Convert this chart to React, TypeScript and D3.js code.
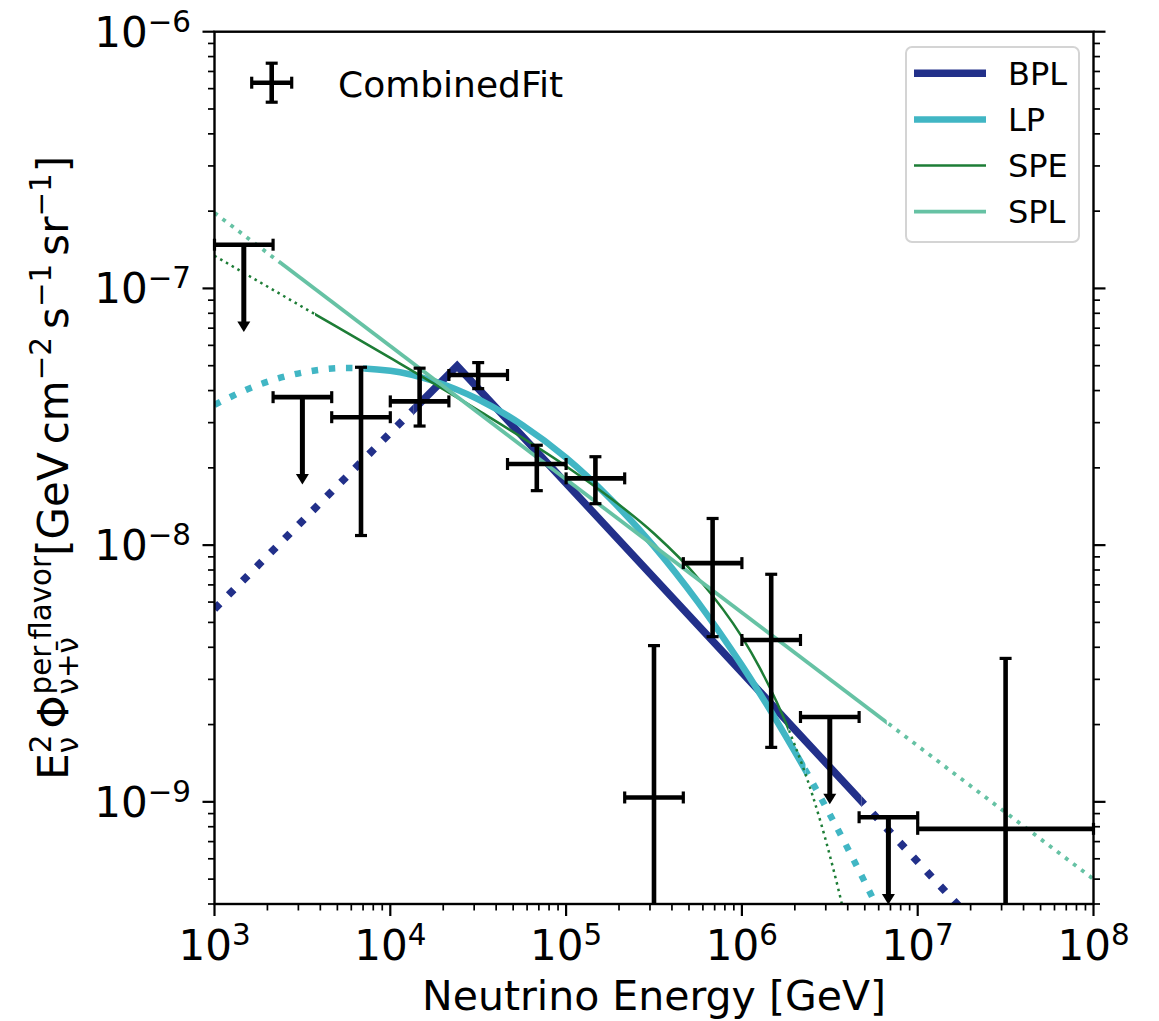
import React, { useEffect, useRef } from 'react';
import * as d3 from 'd3';

// ---------- CombinedFit data points ----------
const binLow = [1e3, 2.154e3, 4.642e3, 1e4, 2.154e4, 4.642e4, 1e5, 2.154e5, 4.642e5, 1e6, 2.154e6, 4.642e6, 1e7];
const binHigh = [2.154e3, 4.642e3, 1e4, 2.154e4, 4.642e4, 1e5, 2.154e5, 4.642e5, 1e6, 2.154e6, 4.642e6, 1e7, 1e8];
const binCenter = [1.468e3, 3.162e3, 6.813e3, 1.468e4, 3.162e4, 6.813e4, 1.468e5, 3.162e5, 6.813e5, 1.468e6, 3.162e6, 6.813e6, 3.162e7];
const fluxValue = [1.48e-7, 3.77e-8, 3.15e-8, 3.63e-8, 4.6e-8, 2.07e-8, 1.82e-8, 1.04e-9, 8.51e-9, 4.27e-9, 2.14e-9, 8.71e-10, 7.85e-10];
const fluxHigh = [NaN, NaN, 4.93e-8, 4.89e-8, 5.14e-8, 2.45e-8, 2.21e-8, 4.06e-9, 1.27e-8, 7.7e-9, NaN, NaN, 3.62e-9];
const fluxLow = [NaN, NaN, 1.09e-8, 2.91e-8, 4.07e-8, 1.63e-8, 1.45e-8, 1e-11, 4.4e-9, 1.63e-9, NaN, NaN, 1e-11];
const isUpperLimit = [true, true, false, false, false, false, false, false, false, false, true, true, false];

// ---------- model curves ----------
const bplEnergy = [1e3, 2.4e4, 1e8];
const bplFlux = [5.64e-9, 4.99e-8, 1.07e-10];
const bplSolid = [1.35e4, 4.8e6];

const lpEnergy = [1e3, 1.778e3, 3.162e3, 5.623e3, 1e4, 1.778e4, 3.162e4, 5.623e4, 1e5, 1.778e5, 3.162e5, 5.623e5, 1e6, 1.778e6, 3.162e6, 5.623e6, 1e7];
const lpFlux = [3.52e-8, 4.21e-8, 4.7e-8, 4.9e-8, 4.78e-8, 4.35e-8, 3.7e-8, 2.94e-8, 2.19e-8, 1.52e-8, 9.89e-9, 6.0e-9, 3.4e-9, 1.8e-9, 8.94e-10, 4.14e-10, 1.79e-10];
const lpSolid = [7.1e3, 2.3e6];

const speEnergy = [1e3, 3.162e3, 1e4, 3.162e4, 1e5, 1.778e5, 3.162e5, 5.623e5, 1e6, 1.259e6, 1.585e6, 1.995e6, 2.512e6, 3.162e6, 3.981e6, 5.012e6];
const speFlux = [1.34e-7, 8.47e-8, 5.36e-8, 3.35e-8, 2.03e-8, 1.53e-8, 1.11e-8, 7.45e-9, 4.39e-9, 3.34e-9, 2.43e-9, 1.67e-9, 1.07e-9, 6.19e-10, 3.21e-10, 1.43e-10];
const speSolid = [3.73e3, 1.84e6];

const splEnergy = [1e3, 1e8];
const splFlux = [1.97e-7, 5.0e-10];
const splSolid = [2.36e3, 6.67e6];

const modelNames = ['BPL', 'LP', 'SPE', 'SPL'];
const modelColors = ['#22308a', '#41b6c4', '#1d7d36', '#66c2a4'];
const modelWidths = [7.5, 6.5, 2.5, 3.8];

// ---------- axes ----------
const xMajorTicks = [1e3, 1e4, 1e5, 1e6, 1e7, 1e8];
const xTickExponents = ['3', '4', '5', '6', '7', '8'];
const yMajorTicks = [1e-9, 1e-8, 1e-7, 1e-6];
const yTickExponents = ['\u22129', '\u22128', '\u22127', '\u22126'];
const xLabel = 'Neutrino Energy [GeV]';
const dataLabel = 'CombinedFit';

const FONT = "'DejaVu Sans', sans-serif";

type Piece = { text: string; level: 'main' | 'sup' | 'sub'; stack?: boolean; gap?: number };

function layoutMath(g: any, pieces: Piece[], F: number, supRaise: number, subDrop: number) {
  let cursor = 0;
  let prevStart = 0;
  let prevEnd = 0;
  pieces.forEach((p) => {
    const size = p.level === 'main' ? F : F * 0.7;
    const dy = p.level === 'sup' ? -supRaise : p.level === 'sub' ? subDrop : 0;
    const start = p.stack ? prevStart : cursor + (p.gap || 0);
    const t = g
      .append('text')
      .attr('x', start)
      .attr('y', dy)
      .attr('font-size', size)
      .attr('font-family', FONT)
      .attr('fill', '#000')
      .style('white-space', 'pre')
      .text(p.text);
    const w = (t.node() as SVGTextElement).getComputedTextLength();
    const end = start + w;
    if (p.stack) {
      cursor = Math.max(prevEnd, end);
      prevEnd = cursor;
    } else {
      cursor = end;
      prevEnd = end;
    }
    prevStart = start;
  });
  return cursor;
}

export default function App() {
  const ref = useRef<SVGSVGElement>(null);

  useEffect(() => {
    const svg = d3.select(ref.current);
    svg.selectAll('*').remove();
    const W = 1159;
    const H = 1021;
    const L = 214.5, R = 1093.5, T = 31.7, B = 904;

    const x = d3.scaleLog().domain([1e3, 1e8]).range([L, R]);
    const y = d3.scaleLog().domain([4e-10, 1e-6]).range([B, T]);

    svg.append('rect').attr('width', W).attr('height', H).attr('fill', '#fff');
    const defs = svg.append('defs');
    defs.append('clipPath').attr('id', 'plotClip').append('rect').attr('x', L).attr('y', T).attr('width', R - L).attr('height', B - T);
    defs.append('clipPath').attr('id', 'bottomClip').append('rect').attr('x', 0).attr('y', 0).attr('width', W).attr('height', B);

    // ---- model curves ----
    const models = [
      { E: bplEnergy, F: bplFlux, solid: bplSolid, curve: d3.curveLinear },
      { E: lpEnergy, F: lpFlux, solid: lpSolid, curve: d3.curveMonotoneX },
      { E: speEnergy, F: speFlux, solid: speSolid, curve: d3.curveMonotoneX },
      { E: splEnergy, F: splFlux, solid: splSolid, curve: d3.curveLinear },
    ];
    const plot = svg.append('g').attr('clip-path', 'url(#plotClip)');
    models.forEach((m, i) => {
      const x0 = x(m.solid[0]);
      const x1 = x(m.solid[1]);
      const cs = defs.append('clipPath').attr('id', `solid${i}`);
      cs.append('rect').attr('x', x0).attr('y', 0).attr('width', x1 - x0).attr('height', H);
      const cd = defs.append('clipPath').attr('id', `dot${i}`);
      cd.append('rect').attr('x', 0).attr('y', 0).attr('width', x0).attr('height', H);
      cd.append('rect').attr('x', x1).attr('y', 0).attr('width', W - x1).attr('height', H);
      const pts: [number, number][] = m.E.map((e, j) => [e, m.F[j]]);
      const line = d3
        .line<[number, number]>()
        .x((d) => x(d[0]))
        .y((d) => y(d[1]))
        .curve(m.curve);
      const wdt = modelWidths[i];
      const g = plot.append('g');
      g.append('path')
        .attr('d', line(pts))
        .attr('fill', 'none')
        .attr('stroke', modelColors[i])
        .attr('stroke-width', wdt)
        .attr('stroke-dasharray', `${wdt} ${wdt * 1.65}`)
        .attr('clip-path', `url(#dot${i})`);
      g.append('path')
        .attr('d', line(pts))
        .attr('fill', 'none')
        .attr('stroke', modelColors[i])
        .attr('stroke-width', wdt)
        .attr('stroke-linecap', 'butt')
        .attr('clip-path', `url(#solid${i})`);
    });

    // ---- data error bars ----
    const data = svg.append('g').attr('clip-path', 'url(#bottomClip)');
    const barW = 4.6;
    const capW = 3.2;
    const capHalf = 6;
    binCenter.forEach((c, i) => {
      const cx = x(c);
      const cy = y(fluxValue[i]);
      const xl = x(binLow[i]);
      const xh = x(binHigh[i]);
      data.append('line').attr('x1', xl).attr('x2', xh).attr('y1', cy).attr('y2', cy).attr('stroke', '#000').attr('stroke-width', barW);
      [xl, xh].forEach((xx) => {
        data.append('line').attr('x1', xx).attr('x2', xx).attr('y1', cy - capHalf).attr('y2', cy + capHalf).attr('stroke', '#000').attr('stroke-width', capW);
      });
      if (isUpperLimit[i]) {
        const tip = y(fluxValue[i] * 0.457);
        const headH = 10.5;
        const headHalf = 6.5;
        data.append('line').attr('x1', cx).attr('x2', cx).attr('y1', cy).attr('y2', tip - headH + 1).attr('stroke', '#000').attr('stroke-width', barW + 0.4);
        data.append('path')
          .attr('d', `M${cx - headHalf},${tip - headH} L${cx + headHalf},${tip - headH} L${cx},${tip} Z`)
          .attr('fill', '#000');
      } else {
        const yt = y(fluxHigh[i]);
        const yb = y(fluxLow[i]);
        data.append('line').attr('x1', cx).attr('x2', cx).attr('y1', yt).attr('y2', yb).attr('stroke', '#000').attr('stroke-width', barW);
        [yt, yb].forEach((yy) => {
          data.append('line').attr('x1', cx - capHalf).attr('x2', cx + capHalf).attr('y1', yy).attr('y2', yy).attr('stroke', '#000').attr('stroke-width', capW);
        });
      }
    });

    // ---- ticks ----
    const axes = svg.append('g');
    const majLen = 12, minLen = 6.5;
    const xMinor: number[] = [];
    for (let k = 3; k < 8; k++) for (let m = 2; m <= 9; m++) xMinor.push(m * Math.pow(10, k));
    const yMinor: number[] = [];
    for (let k = -10; k < -6; k++) for (let m = 2; m <= 9; m++) {
      const v = m * Math.pow(10, k);
      if (v >= 4e-10 && v <= 1e-6) yMinor.push(v);
    }
    xMajorTicks.forEach((t) => {
      axes.append('line').attr('x1', x(t)).attr('x2', x(t)).attr('y1', B).attr('y2', B + majLen).attr('stroke', '#000').attr('stroke-width', 2.2);
    });
    xMinor.forEach((t) => {
      axes.append('line').attr('x1', x(t)).attr('x2', x(t)).attr('y1', B).attr('y2', B + minLen).attr('stroke', '#000').attr('stroke-width', 1.7);
    });
    yMajorTicks.forEach((t) => {
      axes.append('line').attr('x1', L - majLen).attr('x2', L).attr('y1', y(t)).attr('y2', y(t)).attr('stroke', '#000').attr('stroke-width', 2.2);
      axes.append('line').attr('x1', R).attr('x2', R + majLen).attr('y1', y(t)).attr('y2', y(t)).attr('stroke', '#000').attr('stroke-width', 2.2);
    });
    yMinor.forEach((t) => {
      axes.append('line').attr('x1', L - minLen).attr('x2', L).attr('y1', y(t)).attr('y2', y(t)).attr('stroke', '#000').attr('stroke-width', 1.7);
      axes.append('line').attr('x1', R).attr('x2', R + minLen).attr('y1', y(t)).attr('y2', y(t)).attr('stroke', '#000').attr('stroke-width', 1.7);
    });

    // spines
    axes.append('rect').attr('x', L).attr('y', T).attr('width', R - L).attr('height', B - T).attr('fill', 'none').attr('stroke', '#000').attr('stroke-width', 2.4);

    // tick labels
    const TF = 42;
    xMajorTicks.forEach((t, i) => {
      const g = axes.append('g');
      const w = layoutMath(g, [{ text: '10', level: 'main' }, { text: xTickExponents[i], level: 'sup' }], TF, 15, 0);
      g.attr('transform', `translate(${x(t) - w / 2},${960})`);
    });
    yMajorTicks.forEach((t, i) => {
      const g = axes.append('g');
      const w = layoutMath(g, [{ text: '10', level: 'main' }, { text: yTickExponents[i], level: 'sup' }], TF, 15, 0);
      g.attr('transform', `translate(${191 - w},${y(t) + 15})`);
    });

    // axis labels
    axes.append('text')
      .attr('x', (L + R) / 2)
      .attr('y', 1010)
      .attr('text-anchor', 'middle')
      .attr('font-size', 41)
      .attr('font-family', FONT)
      .text(xLabel);

    const yg = axes.append('g');
    const yPieces: Piece[] = [
      { text: 'E', level: 'main' },
      { text: '2', level: 'sup' },
      { text: '\u03bd', level: 'sub', stack: true },
      { text: '\u03a6', level: 'main', gap: 6 },
      { text: 'per\u2009flavor', level: 'sup', gap: 1 },
      { text: '\u03bd+\u03bd\u0304', level: 'sub', stack: true },
      { text: '[GeV', level: 'main' },
      { text: 'cm', level: 'main', gap: 8 },
      { text: '\u22122', level: 'sup' },
      { text: 's', level: 'main', gap: 8 },
      { text: '\u22121', level: 'sup' },
      { text: 'sr', level: 'main', gap: 8 },
      { text: '\u22121', level: 'sup' },
      { text: ']', level: 'main', gap: 1 },
    ];
    const yw = layoutMath(yg, yPieces, 42, 17, 10);
    yg.attr('transform', `translate(68,${(T + B) / 2 + yw / 2}) rotate(-90)`);

    // ---- legend: CombinedFit ----
    const lg = svg.append('g');
    const lx = 271.7, ly = 82.7;
    lg.append('line').attr('x1', lx - 20).attr('x2', lx + 20).attr('y1', ly).attr('y2', ly).attr('stroke', '#000').attr('stroke-width', barW);
    lg.append('line').attr('x1', lx).attr('x2', lx).attr('y1', ly - 19.5).attr('y2', ly + 19.5).attr('stroke', '#000').attr('stroke-width', barW);
    [lx - 20, lx + 20].forEach((xx) => lg.append('line').attr('x1', xx).attr('x2', xx).attr('y1', ly - capHalf).attr('y2', ly + capHalf).attr('stroke', '#000').attr('stroke-width', capW));
    [ly - 19.5, ly + 19.5].forEach((yy) => lg.append('line').attr('x1', lx - capHalf).attr('x2', lx + capHalf).attr('y1', yy).attr('y2', yy).attr('stroke', '#000').attr('stroke-width', capW));
    lg.append('text').attr('x', 338).attr('y', 96.5).attr('font-size', 36).attr('font-family', FONT).text(dataLabel);

    // ---- legend: models ----
    const mg = svg.append('g');
    mg.append('rect').attr('x', 906).attr('y', 47).attr('width', 173).attr('height', 195).attr('rx', 6)
      .attr('fill', '#fff').attr('fill-opacity', 0.8).attr('stroke', '#d4d4d4').attr('stroke-width', 2);
    modelNames.forEach((n, i) => {
      const yy = 73.3 + i * 46.1;
      mg.append('line').attr('x1', 914).attr('x2', 986).attr('y1', yy).attr('y2', yy).attr('stroke', modelColors[i]).attr('stroke-width', modelWidths[i]);
      mg.append('text').attr('x', 1008).attr('y', yy + 11.5).attr('font-size', 32).attr('font-family', FONT).text(n);
    });
  }, []);

  return (
    <svg
      ref={ref}
      width={1159}
      height={1021}
      style={{ position: 'absolute', left: 0, top: 0, display: 'block' }}
    />
  );
}
